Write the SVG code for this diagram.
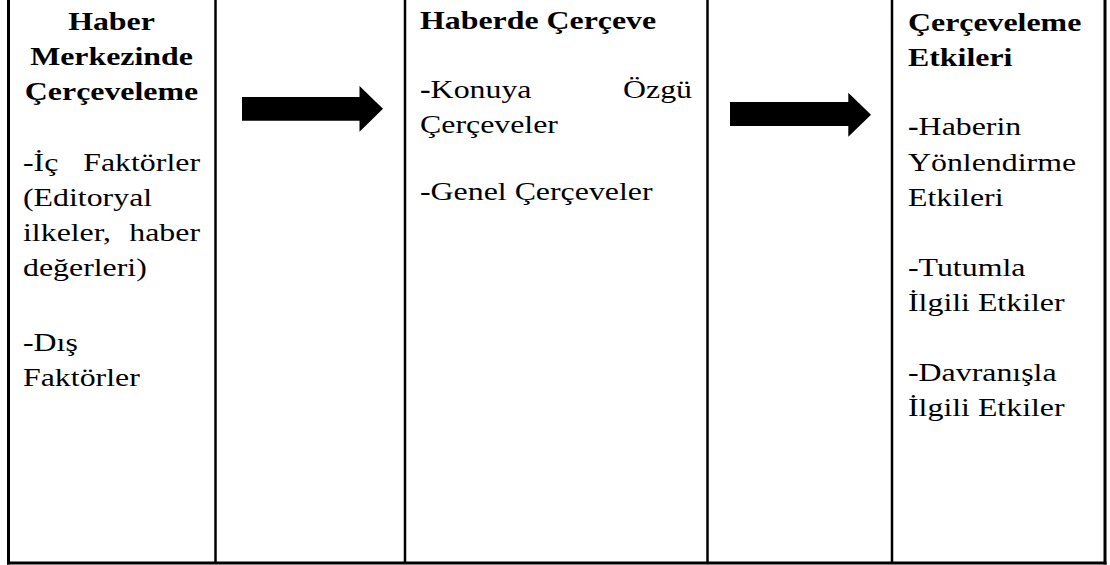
<svg xmlns="http://www.w3.org/2000/svg" width="1110" height="565" viewBox="0 0 1110 565">
  <style>
    .t { font-family: "Liberation Serif", "Times New Roman", serif; font-size: 25px; fill: #000; }
    .b { font-weight: bold; }
    .grid { stroke: #000; stroke-width: 2.5; fill: none; }
    .outer { stroke: #000; stroke-width: 3; fill: none; }
    .arrow { fill: #000; stroke: none; }
  </style>
  <rect width="1110" height="565" fill="#fff"/>
  <g id="table-grid">
    <line class="outer" x1="8.5" y1="0" x2="8.5" y2="564.5"/>
    <line class="outer" x1="1105" y1="0" x2="1105" y2="564.5"/>
    <line class="outer" x1="7" y1="563" x2="1106.5" y2="563"/>
    <line class="grid" x1="215.5" y1="0" x2="215.5" y2="563"/>
    <line class="grid" x1="405" y1="0" x2="405" y2="563"/>
    <line class="grid" x1="707.5" y1="0" x2="707.5" y2="563"/>
    <line class="grid" x1="892" y1="0" x2="892" y2="563"/>
  </g>
  <g id="node-haber-merkezinde">
    <text class="t b" text-anchor="middle" transform="translate(111.5 30) scale(1.275 1)">Haber</text>
    <text class="t b" text-anchor="middle" transform="translate(111.5 64.5) scale(1.275 1)">Merkezinde</text>
    <text class="t b" text-anchor="middle" transform="translate(111.5 99.5) scale(1.275 1)">Çerçeveleme</text>
    <text class="t" transform="translate(23 171) scale(1.275 1)">-İç</text>
    <text class="t" text-anchor="end" transform="translate(200 171) scale(1.275 1)">Faktörler</text>
    <text class="t" transform="translate(23 206) scale(1.275 1)">(Editoryal</text>
    <text class="t" transform="translate(23 241) scale(1.275 1)">ilkeler,</text>
    <text class="t" text-anchor="end" transform="translate(200 241) scale(1.275 1)">haber</text>
    <text class="t" transform="translate(23 276) scale(1.275 1)">değerleri)</text>
    <text class="t" transform="translate(23 351) scale(1.275 1)">-Dış</text>
    <text class="t" transform="translate(23 386) scale(1.275 1)">Faktörler</text>
  </g>
  <g id="node-haberde-cerceve">
    <text class="t b" transform="translate(420 28.5) scale(1.275 1)">Haberde Çerçeve</text>
    <text class="t" transform="translate(420 98) scale(1.275 1)"><tspan class="b">-</tspan>Konuya</text>
    <text class="t" text-anchor="end" transform="translate(692 98) scale(1.275 1)">Özgü</text>
    <text class="t" transform="translate(420 133) scale(1.275 1)">Çerçeveler</text>
    <text class="t" transform="translate(420 200) scale(1.275 1)">-Genel Çerçeveler</text>
  </g>
  <g id="node-cerceveleme-etkileri">
    <text class="t b" transform="translate(908 31) scale(1.275 1)">Çerçeveleme</text>
    <text class="t b" transform="translate(908 66) scale(1.275 1)">Etkileri</text>
    <text class="t" transform="translate(908 135) scale(1.275 1)"><tspan class="b">-</tspan>Haberin</text>
    <text class="t" transform="translate(908 171) scale(1.275 1)">Yönlendirme</text>
    <text class="t" transform="translate(908 206) scale(1.275 1)">Etkileri</text>
    <text class="t" transform="translate(908 276) scale(1.275 1)">-Tutumla</text>
    <text class="t" transform="translate(908 311) scale(1.275 1)">İlgili Etkiler</text>
    <text class="t" transform="translate(908 381) scale(1.275 1)">-Davranışla</text>
    <text class="t" transform="translate(908 416) scale(1.275 1)">İlgili Etkiler</text>
  </g>
  <g id="connectors">
    <polygon class="arrow" points="242,97 359.5,97 359.5,86 383,108.8 359.5,131.7 359.5,120.7 242,120.7"/>
    <polygon class="arrow" points="730,102 848.3,102 848.3,92.7 871,114.7 848.3,136.7 848.3,126 730,126"/>
  </g>
</svg>
